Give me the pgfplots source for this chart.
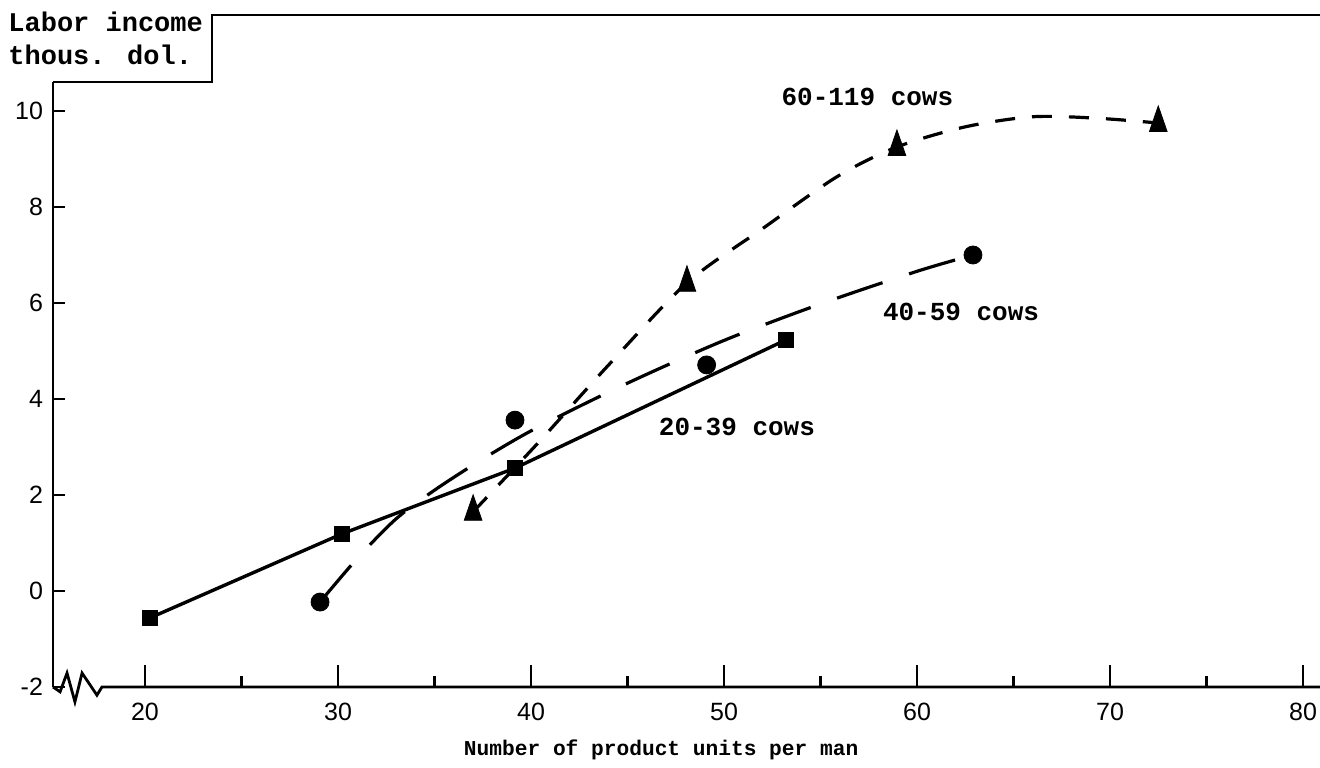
\documentclass[border=0pt]{standalone}
\usepackage{fontspec}
\setmainfont{Liberation Mono}
\newfontfamily\tickfont{Liberation Sans}
\usepackage{pgfplots}
\pgfplotsset{compat=1.18}

\begin{document}
\begin{tikzpicture}
\begin{axis}[
    scale only axis,
    width=633.5pt, height=302.5pt,
    xmin=15.233, xmax=80.88,
    ymin=-2, ymax=10.604,
    clip=false,
    axis x line*=bottom, axis y line*=left,
    x axis line style={draw=none},
    y axis line style={line width=1.4pt},
    tick align=inside,
    major tick length=11pt, minor tick length=5.5pt,
    every tick/.style={black, line width=1.4pt},
    ytick style={/pgfplots/major tick length=6pt},
    xtick={20,30,...,80},
    minor xtick={25,35,...,75},
    ytick={0,2,...,10},
    extra y ticks={-2},
    extra y tick style={/pgfplots/major tick length=0pt},
    /pgf/number format/assume math mode=true,
    ticklabel style={font=\tickfont\fontsize{12.5}{14}\selectfont},
    xticklabel style={yshift=-4.5pt},
    yticklabel style={xshift=-1.5pt},
    xlabel={Number of product units per man},
    every axis x label/.style={at={(axis description cs:0.48,-0.104)}, anchor=center,
      font=\bfseries\fontsize{10.6}{12}\selectfont},
    ylabel={Labor income\\thous. dol.},
    every axis y label/.style={at={(axis description cs:-0.0355,1.116)}, anchor=north west,
      align=left, inner sep=0pt, font=\bfseries\fontsize{13.5}{16.5}\selectfont},
    mark options={solid},
]
% 20-39 cows
\addplot[black, line width=1.7pt, mark=square*, mark size=3.2pt] coordinates {
  (20.26,-0.56) (30.2,1.19) (39.17,2.56) (53.2,5.23)};
% 40-59 cows: fitted curve and observations
\addplot[black, line width=1.6pt, smooth, dash pattern=on 24pt off 14pt] coordinates {
  (29.07,-0.23) (31,0.68) (33,1.5) (35,2.1) (37.5,2.75) (40.3,3.4)
  (45,4.33) (50,5.22) (55,5.98) (60,6.66) (62.9,7.0)};
\addplot[only marks, mark=*, mark size=4.5pt, black] coordinates {
  (29.07,-0.23) (39.17,3.56) (49.1,4.71) (62.9,7.0)};
% 60-119 cows: fitted curve and observations
\addplot[black, line width=1.6pt, smooth, dash pattern=on 10pt off 8.5pt] coordinates {
  (37,1.65) (40.4,3.1) (44,4.7) (48.08,6.42) (52,7.55) (55.85,8.63)
  (58.96,9.25) (62.5,9.67) (66,9.88) (69.3,9.85) (72.5,9.75)};
\addplot[only marks, mark=triangle*, mark size=8.5pt, mark options={xscale=0.6}, black] coordinates {
  (37.0,1.65) (48.08,6.42) (58.96,9.25) (72.5,9.75)};

\node[font=\bfseries\fontsize{13}{15}\selectfont] at (axis cs:57.43,10.29) {60-119 cows};
\node[font=\bfseries\fontsize{13}{15}\selectfont] at (axis cs:62.28,5.81) {40-59 cows};
\node[font=\bfseries\fontsize{13}{15}\selectfont] at (axis cs:50.67,3.42) {20-39 cows};

% x axis with break
\draw[line width=1.4pt] (axis cs:15.233,-2) -- (axis cs:15.6,-2.1) -- (axis cs:15.96,-1.71)
  -- (axis cs:16.37,-2.31) -- (axis cs:16.74,-1.71) -- (axis cs:17.51,-2.17)
  -- (axis cs:17.77,-2) -- (axis cs:80.88,-2);
% frame round the unit label
\draw[line width=1.4pt] (axis cs:15.233,10.604) -- (axis cs:23.47,10.604)
  -- (axis cs:23.47,12.0) -- (axis cs:80.88,12.0);

\coordinate (bbA) at (axis cs:12.487,-3.667);
\coordinate (bbB) at (axis cs:80.881,12.3125);
\end{axis}
\pgfresetboundingbox
\useasboundingbox (bbA) rectangle (bbB);
\end{tikzpicture}
\end{document}
